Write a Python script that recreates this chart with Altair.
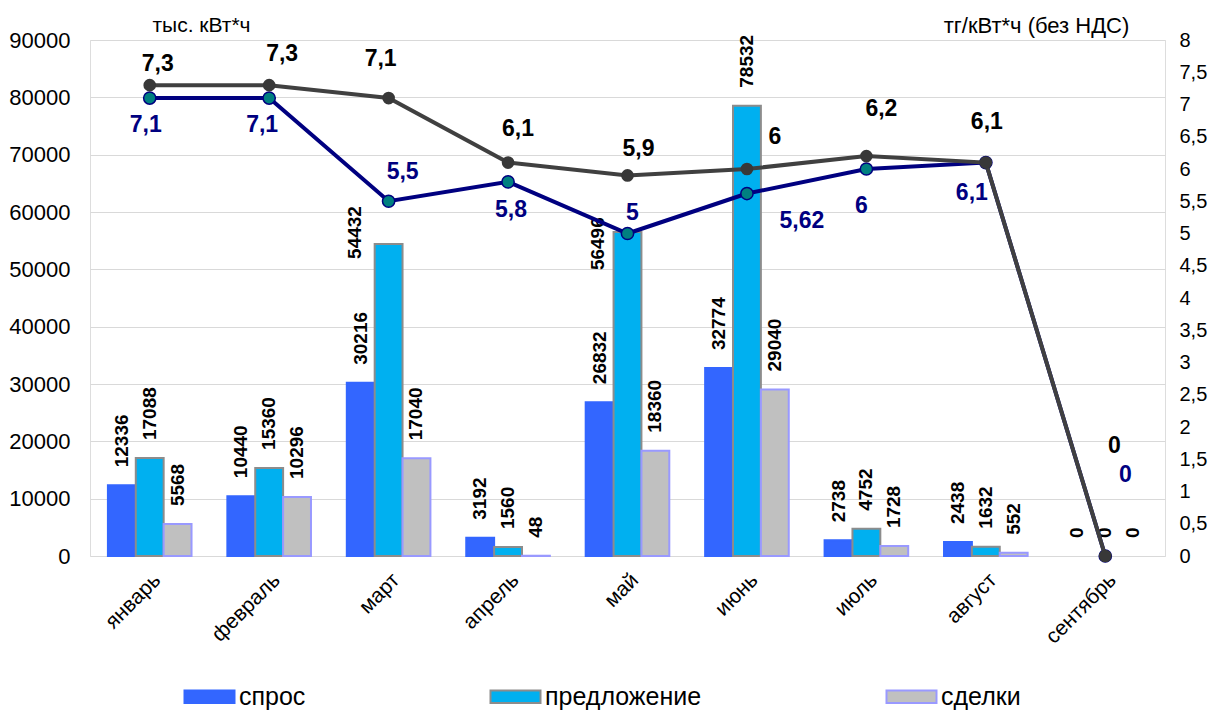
import altair as alt
import pandas as pd

FONT = "Liberation Sans, Arial, sans-serif"

months = ["январь", "февраль", "март", "апрель", "май", "июнь", "июль", "август", "сентябрь"]
series_names = ["спрос", "предложение", "сделки"]
spros = [12336, 10440, 30216, 3192, 26832, 32774, 2738, 2438, 0]
predl = [17088, 15360, 54432, 1560, 56496, 78532, 4752, 1632, 0]
sdelki = [5568, 10296, 17040, 48, 18360, 29040, 1728, 552, 0]
price_gray = [7.3, 7.3, 7.1, 6.1, 5.9, 6.0, 6.2, 6.1, 0]
price_blue = [7.1, 7.1, 5.5, 5.8, 5.0, 5.62, 6.0, 6.1, 0]
left_ticks = list(range(0, 90001, 10000))
right_ticks = [i * 0.5 for i in range(17)]

fill_colors = ["#3366FF", "#00B0F0", "#C0C0C0"]
stroke_colors = ["#3366FF", "#8C8C8C", "#9999FF"]

rows = []
for s, vals in zip(series_names, [spros, predl, sdelki]):
    for m, v in zip(months, vals):
        rows.append({"month": m, "series": s, "value": v, "label": str(v)})
bars_df = pd.DataFrame(rows)


def fmt(v):
    return f"{v:g}".replace(".", ",")


lines_df = pd.DataFrame({
    "month": months,
    "gray": price_gray,
    "blue": price_blue,
    "gray_label": [fmt(v) for v in price_gray],
    "blue_label": [fmt(v) for v in price_blue],
})

# label placement (styling)
gray_off = {"январь": (8, -21), "февраль": (13, -31), "март": (-8, -39), "апрель": (10, -34),
            "май": (11, -26), "июнь": (28, -32), "июль": (15, -47), "август": (1, -41),
            "сентябрь": (9, -110)}
blue_off = {"январь": (-4, 27), "февраль": (-7, 27), "март": (14, -29), "апрель": (3, 28),
            "май": (5, -21), "июнь": (55, 27), "июль": (-5, 37), "август": (-14, 30),
            "сентябрь": (20, -81)}
bar_special = {("предложение", "март"): (-15, -34), ("предложение", "май"): (-38, -30)}

x_enc = alt.X("month:N", sort=months, title=None,
              scale=alt.Scale(paddingInner=0.3, paddingOuter=0.15),
              axis=alt.Axis(labelAngle=-45, labelAlign="right", labelBaseline="top",
                            labelFontSize=21, labelFont=FONT, labelColor="black",
                            labelPadding=13, ticks=False, domain=False, grid=False))
x_off = alt.XOffset("series:N", sort=series_names,
                    scale=alt.Scale(paddingInner=0, paddingOuter=0))
y_left = alt.Y("value:Q", scale=alt.Scale(domain=[0, 90000], nice=False),
               axis=alt.Axis(values=left_ticks, format="d", grid=True, gridColor="#D9D9D9",
                             ticks=False, domain=False, labelFontSize=22, labelFont=FONT,
                             labelColor="black", labelPadding=20, labelOverlap=False,
                             title="тыс. кВт*ч", titleAngle=0, titleX=111, titleY=-15,
                             titleFontSize=21, titleFont=FONT, titleFontWeight="normal",
                             titleAlign="center", titleBaseline="middle", titleColor="black"))

legend_spec = dict(orient="none", legendX=106, legendY=643, direction="horizontal", title=None,
                   symbolType="M-2,-0.5H2V0.5H-2Z", symbolSize=625, symbolStrokeWidth=2,
                   labelFontSize=25, labelFont=FONT, labelColor="black", columnPadding=180,
                   labelOffset=16, symbolOpacity=1)

bars = alt.Chart(bars_df).transform_filter("datum.value > 0").mark_bar(
    strokeWidth=2, opacity=1).encode(
    x=x_enc,
    xOffset=x_off,
    y=y_left,
    fill=alt.Fill("series:N", scale=alt.Scale(domain=series_names, range=fill_colors),
                  legend=alt.Legend(**legend_spec)),
    stroke=alt.Stroke("series:N", scale=alt.Scale(domain=series_names, range=stroke_colors),
                      legend=alt.Legend(**legend_spec)),
)

special_expr = " || ".join(
    f"(datum.series === '{s}' && datum.month === '{m}')" for (s, m) in bar_special)

bar_text_layers = [
    alt.Chart(bars_df).transform_filter(f"!({special_expr})").mark_text(
        angle=270, align="left", baseline="middle", dx=18, fontSize=19, fontWeight="bold",
        font=FONT, color="black").encode(x=alt.X("month:N", sort=months), xOffset=x_off,
                                         y=y_left, text="label:N")
]
for (s, m), (ddx, ddy) in bar_special.items():
    bar_text_layers.append(
        alt.Chart(bars_df).transform_filter(
            f"datum.series === '{s}' && datum.month === '{m}'").mark_text(
            angle=270, align="left", baseline="middle", dx=ddx, dy=ddy, fontSize=19,
            fontWeight="bold", font=FONT, color="black").encode(
            x=alt.X("month:N", sort=months), xOffset=x_off, y=y_left, text="label:N"))

left_layer = alt.layer(bars, *bar_text_layers)

y_right_axis = alt.Axis(values=right_ticks, orient="right", grid=False, ticks=False,
                        domain=False,
                        labelExpr="replace(format(datum.value, '~g'), '.', ',')",
                        labelOverlap=False, labelFontSize=20, labelFont=FONT,
                        labelColor="black", labelPadding=14,
                        title="тг/кВт*ч (без НДС)", titleAngle=0, titleX=-129, titleY=-15,
                        titleFontSize=22, titleFont=FONT, titleFontWeight="normal",
                        titleAlign="center", titleBaseline="middle", titleColor="black")
y_scale_r = alt.Scale(domain=[0, 8], nice=False)
xl = alt.X("month:N", sort=months)


def yr(field):
    return alt.Y(f"{field}:Q", scale=y_scale_r, axis=y_right_axis)


base = alt.Chart(lines_df)
blue_line = base.mark_line(color="#000080", strokeWidth=4).encode(x=xl, y=yr("blue"))
blue_pts = base.mark_circle(size=150, color="#008080", stroke="#000080", strokeWidth=1.5,
                            opacity=1).encode(x=xl, y=yr("blue"))
gray_line = base.mark_line(color="#404040", strokeWidth=4).encode(x=xl, y=yr("gray"))
gray_pts = base.mark_circle(size=160, color="#383838", opacity=1).encode(x=xl, y=yr("gray"))

label_layers = []
for m in months:
    gdx, gdy = gray_off[m]
    bdx, bdy = blue_off[m]
    label_layers.append(base.transform_filter(f"datum.month === '{m}'").mark_text(
        dx=gdx, dy=gdy, fontSize=23, fontWeight="bold", font=FONT, color="black",
        align="center", baseline="middle").encode(x=xl, y=yr("gray"), text="gray_label:N"))
    label_layers.append(base.transform_filter(f"datum.month === '{m}'").mark_text(
        dx=bdx, dy=bdy, fontSize=23, fontWeight="bold", font=FONT, color="#000080",
        align="center", baseline="middle").encode(x=xl, y=yr("blue"), text="blue_label:N"))

right_layer = alt.layer(blue_line, blue_pts, gray_line, gray_pts, *label_layers)

chart = alt.layer(left_layer, right_layer).resolve_scale(y="independent").properties(
    width=1075, height=516,
    padding={"left": 82, "top": 32, "right": 43, "bottom": 155},
    autosize=alt.AutoSizeParams(type="none"),
).configure_view(stroke="#C8C8C8", strokeWidth=1.5).configure(background="white")

chart.save("out.html", embed_options={"renderer": "svg", "actions": False})
